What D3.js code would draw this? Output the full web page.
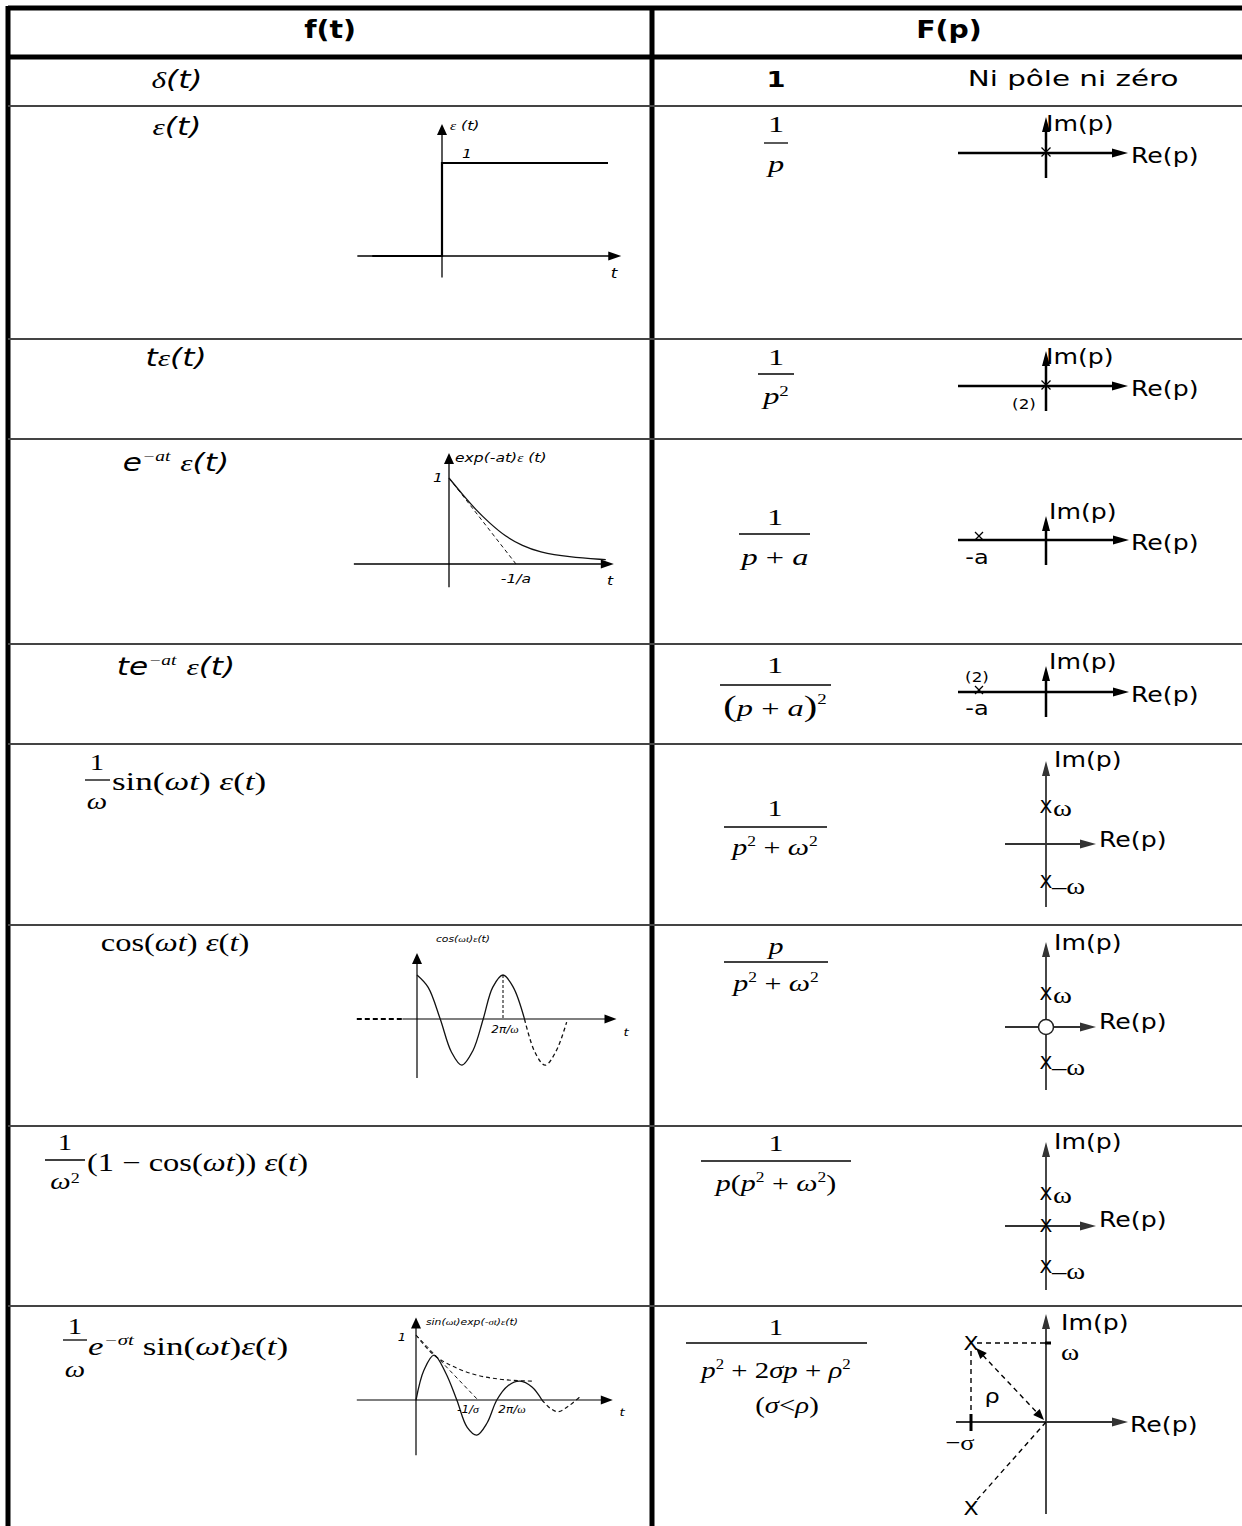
<!DOCTYPE html>
<html>
<head>
<meta charset="utf-8">
<script src="https://cdn.jsdelivr.net/npm/d3@7"></script>
<style>
  html, body { margin: 0; padding: 0; background: #fff; }
  svg { display: block; }
</style>
</head>
<body>
<div id="chart"></div>
<script>
// --- data ---
const headers = ["f(t)", "F(p)"];

// step e(t)
const stepT = [-0.42, 0, 0, 1];
const stepV = [0, 0, 1, 1];

// exp(-at) e(t), t in units of 1/a
const expT = [0, 0.2, 0.4, 0.6, 0.84, 1.1, 1.34, 1.78, 2.34];
const expV = [1, 0.81, 0.63, 0.48, 0.32, 0.21, 0.14, 0.08, 0.05];
const expTanT = [0, 1];
const expTanV = [1, 0];

// cos(wt) e(t), t in periods
const cosT = [0, 0.13, 0.27, 0.4, 0.52, 0.65, 0.77, 0.88, 1, 1.12, 1.25];
const cosV = [1, 0.72, 0, -0.75, -1.05, -0.72, 0, 0.72, 1, 0.72, 0];
const cosDashT = [1.25, 1.37, 1.49, 1.62, 1.74];
const cosDashV = [0, -0.75, -1.05, -0.72, -0.07];

// sin(wt) exp(-st) e(t)
const dampT = [0, 0.1, 0.225, 0.37, 0.51, 0.64, 0.76, 0.89, 1.01, 1.15, 1.3, 1.45, 1.575];
const dampV = [0, 0.46, 0.69, 0.42, 0, -0.42, -0.54, -0.35, 0, 0.22, 0.29, 0.2, 0];
const dampDashT = [1.575, 1.68, 1.775, 1.9, 2.05];
const dampDashV = [0, -0.13, -0.18, -0.1, 0.05];
const envT = [0, 0.225, 0.425, 0.71, 1.05, 1.46];
const envV = [1, 0.69, 0.54, 0.40, 0.32, 0.29];
const dampTanT = [0, 0.775];
const dampTanV = [1, 0];

// poles [re, im] per row
const polesStep = [[0, 0]];
const polesRamp = [[0, 0]];
const polesExp = [[-1, 0]];
const polesTExp = [[-1, 0]];
const polesSin = [[0, 1.03], [0, -1.05]];
const polesCos = [[0, 0.92], [0, -1.0]];
const zerosCos = [[0, 0]];
const polesOneMinusCos = [[0, 0], [0, 0.89], [0, -1.14]];
const polesDamped = [[-1, 1], [-1, -1.09]];

// --- layout ---
const W = 1242, H = 1526;
const SANS = "'DejaVu Sans', Verdana, sans-serif";
const SERIF = "'Liberation Serif', 'Times New Roman', serif";
const rowLines = [106, 339, 439, 644, 744, 925, 1126, 1306];

const svg = d3.select("#chart").append("svg").attr("width", W).attr("height", H);

function seg(pts, o = {}) {
    return svg.append("path").attr("d", d3.line()(pts))
        .attr("fill", "none").attr("stroke", o.color || "#000")
        .attr("stroke-width", o.w || 1.5)
        .attr("stroke-dasharray", o.dash || null);
}

function head(x1, y1, x2, y2, o = {}) {
    const len = o.len || 12, hw = o.hw || 4;
    const dx = x2 - x1, dy = y2 - y1, L = Math.hypot(dx, dy), ux = dx / L, uy = dy / L;
    const bx = x2 - ux * len, by = y2 - uy * len;
    svg.append("path")
        .attr("d", `M${x2},${y2}L${bx - uy * hw},${by + ux * hw}L${bx + uy * hw},${by - ux * hw}Z`)
        .attr("fill", o.color || "#000");
    return [bx + ux, by + uy];
}

function arrow(x1, y1, x2, y2, o = {}) {
    const b = head(x1, y1, x2, y2, o);
    seg([[x1, y1], b], o);
}

function txt(x, y, parts, o = {}) {
    o = Object.assign({ size: 22, anchor: "middle", sx: 1.3, fam: SANS }, o);
    const g = svg.append("g").attr("transform", `translate(${x},${y}) scale(${o.sx},1)`);
    const t = g.append("text").attr("text-anchor", o.anchor).attr("dy", "0.35em")
        .attr("font-family", o.fam).attr("font-size", o.size).attr("fill", "#000");
    if (o.weight) t.attr("font-weight", o.weight);
    if (o.style) t.attr("font-style", o.style);
    if (typeof parts === "string") parts = [{ t: parts }];
    parts.forEach(p => {
        const s = t.append("tspan").text(p.t);
        if (p.fam) s.attr("font-family", p.fam);
        if (p.style) s.attr("font-style", p.style);
        if (p.size) s.attr("font-size", p.size);
        if (p.dy) s.attr("dy", p.dy);
        if (p.dx) s.attr("dx", p.dx);
    });
    return t;
}

function frac(cx, yNum, yBar, yDen, x1, x2, num, den, o = {}) {
    const oo = Object.assign({ fam: SERIF, size: 24, sx: 1.35 }, o);
    txt(cx, yNum, num, oo);
    seg([[x1, yBar], [x2, yBar]], { w: 1.3 });
    txt(cx, yDen, den, oo);
}

const I = "italic";

// --- table frame ---
seg([[8, 8], [W + 5, 8]], { w: 5 });
seg([[8, 57], [W + 5, 57]], { w: 5 });
seg([[8, 6], [8, H + 5]], { w: 5 });
seg([[652, 6], [652, H + 5]], { w: 5 });
rowLines.forEach(y => seg([[8, y], [W + 5, y]], { w: 2, color: "#444" }));

txt(330, 30, headers[0], { weight: "bold", size: 24, sx: 1.18 });
txt(949, 30, headers[1], { weight: "bold", size: 24, sx: 1.18 });

// --- left column formulas ---
const eps = [{ t: "ε", fam: SERIF, style: I }, { t: "(t)", style: I }];
txt(177, 80, [{ t: "δ", fam: SERIF, style: I }, { t: "(t)", style: I }], { size: 24 });
txt(177, 127, eps, { size: 24 });
txt(176, 358, [{ t: "t", style: I }].concat(eps), { size: 24 });
txt(176, 463, [{ t: "e", style: I }, { t: "−at", fam: SERIF, style: I, size: 15, dy: -10 },
    { t: " ", dy: 10 }].concat(eps), { size: 24 });
txt(176, 667, [{ t: "te", style: I }, { t: "−at", fam: SERIF, style: I, size: 15, dy: -10 },
    { t: " ", dy: 10 }].concat(eps), { size: 24 });

const serifEps = [{ t: "ε", style: I }, { t: "(" }, { t: "t", style: I }, { t: ")" }];
const sinWt = [{ t: "sin(" }, { t: "ωt", style: I }, { t: ")" }];
const cosWt = [{ t: "cos(" }, { t: "ωt", style: I }, { t: ")" }];

frac(97, 762, 780, 801, 85, 110, "1", [{ t: "ω", style: I }], { sx: 1.2 });
txt(112, 781, sinWt.concat([{ t: " " }], serifEps), { fam: SERIF, size: 25, anchor: "start", sx: 1.4 });
txt(175, 942, cosWt.concat([{ t: " " }], serifEps), { fam: SERIF, size: 25, sx: 1.3 });
frac(65, 1142, 1160, 1181, 45, 85, "1", [{ t: "ω", style: I }, { t: "2", size: 15, dy: -6 }], { sx: 1.2 });
txt(87, 1162, [{ t: "(1 − " }].concat(cosWt, [{ t: ") " }], serifEps),
    { fam: SERIF, size: 25, anchor: "start", sx: 1.3 });
frac(75, 1326, 1340, 1369, 63, 87, "1", [{ t: "ω", style: I }], { sx: 1.2 });
txt(88, 1346, [{ t: "e", style: I }, { t: "−σt", style: I, size: 15, dy: -10 }, { t: " ", dy: 10 }]
    .concat(sinWt, serifEps), { fam: SERIF, size: 25, anchor: "start", sx: 1.4 });

// --- right column transforms ---
txt(776, 80, "1", { weight: "bold", size: 21 });
txt(1073, 79, "Ni pôle ni zéro", { size: 21, sx: 1.4 });
frac(776, 124, 143, 164, 764, 788, "1", [{ t: "p", style: I }]);
frac(776, 357, 374, 396, 758, 794, "1", [{ t: "p", style: I }, { t: "2", size: 14, dy: -8 }]);
frac(775, 517, 534, 557, 739, 810, "1", [{ t: "p", style: I }, { t: " + " }, { t: "a", style: I }]);
frac(775, 665, 685, 708, 720, 831, "1", [{ t: "(", size: 30 }, { t: "p", style: I }, { t: " + " },
    { t: "a", style: I }, { t: ")", size: 30 }, { t: "2", size: 14, dy: -12 }]);
const p2w2 = [{ t: "p", style: I }, { t: "2", size: 14, dy: -9 }, { t: " + ", dy: 9 },
    { t: "ω", style: I }, { t: "2", size: 14, dy: -9 }];
frac(775, 808, 827, 847, 724, 827, "1", p2w2, { sx: 1.25 });
frac(776, 946, 962, 983, 724, 828, [{ t: "p", style: I }], p2w2, { sx: 1.25 });
frac(776, 1143, 1161, 1183, 701, 851, "1", [{ t: "p", style: I }, { t: "(" }].concat(p2w2,
    [{ t: ")", dy: 9 }]), { sx: 1.25 });
frac(776, 1327, 1343, 1370, 686, 867, "1", [{ t: "p", style: I }, { t: "2", size: 14, dy: -9 },
    { t: " + 2", dy: 9 }, { t: "σp", style: I }, { t: " + " }, { t: "ρ", style: I },
    { t: "2", size: 14, dy: -9 }], { sx: 1.2 });
txt(787, 1405, [{ t: "(" }, { t: "σ", style: I }, { t: "<" }, { t: "ρ", style: I }, { t: ")" }],
    { fam: SERIF, size: 24, sx: 1.2 });

// --- small time plots ---
function plotLine(xs, ys, T, V, o = {}) {
    const pts = T.map((t, i) => [xs(t), ys(V[i])]);
    const gen = d3.line().curve(o.curve || d3.curveLinear);
    return svg.append("path").attr("d", gen(pts)).attr("fill", "none")
        .attr("stroke", o.color || "#111").attr("stroke-width", o.w || 1.3)
        .attr("stroke-dasharray", o.dash || null);
}

// step
{
    const x = d3.scaleLinear().domain([0, 1]).range([442, 608]);
    const y = d3.scaleLinear().domain([0, 1]).range([256, 163]);
    arrow(x(-0.51), y(0), x(1.08), y(0), { w: 1.3, len: 13, hw: 4.5 });
    arrow(x(0), y(-0.23), x(0), y(1.42), { w: 1.3, len: 11, hw: 5 });
    plotLine(x, y, stepT, stepV, { w: 2.2, color: "#000" });
    txt(450, 125, [{ t: "ε", fam: SERIF }, { t: " (t)" }], { size: 13, style: I, anchor: "start", sx: 1.2 });
    txt(467, 153, "1", { size: 13, style: I, sx: 1.2 });
    txt(614, 273, "t", { size: 14, style: I, sx: 1.2 });
}

// exp decay
{
    const x = d3.scaleLinear().domain([0, 1]).range([449, 516]);
    const y = d3.scaleLinear().domain([0, 1]).range([564, 478]);
    arrow(x(-1.42), y(0), x(2.46), y(0), { w: 1.3, len: 13, hw: 4.5 });
    arrow(x(0), y(-0.27), x(0), y(1.29), { w: 1.3, len: 11, hw: 5 });
    plotLine(x, y, expT, expV, { curve: d3.curveBasis, w: 1.3 });
    plotLine(x, y, expTanT, expTanV, { w: 1, dash: "4,3" });
    txt(455, 457, [{ t: "exp(-at)" }, { t: "ε", fam: SERIF }, { t: " (t)" }],
        { size: 13, style: I, anchor: "start", sx: 1.2 });
    txt(438, 477, "1", { size: 13, style: I, sx: 1.2 });
    txt(516, 578, "-1/a", { size: 13, style: I, sx: 1.2 });
    txt(610, 580, "t", { size: 13, style: I, sx: 1.2 });
}

// cos
{
    const x = d3.scaleLinear().domain([0, 1]).range([417, 503]);
    const y = d3.scaleLinear().domain([0, 1]).range([1019, 975]);
    arrow(x(-0.17), y(0), x(2.32), y(0), { w: 1.2, len: 12, hw: 4.5 });
    seg([[x(-0.7), y(0)], [x(-0.17), y(0)]], { w: 2, dash: "5,3" });
    arrow(x(0), y(-1.34), x(0), y(1.5), { w: 1.2, len: 11, hw: 5 });
    plotLine(x, y, cosT, cosV, { curve: d3.curveCatmullRom, w: 1.3 });
    plotLine(x, y, cosDashT, cosDashV, { curve: d3.curveCatmullRom, w: 1.3, dash: "4,3" });
    seg([[x(1), y(1)], [x(1), y(0)]], { w: 1, dash: "3,2" });
    txt(463, 939, [{ t: "cos(" }, { t: "ωt", fam: SERIF }, { t: ")" }, { t: "ε", fam: SERIF }, { t: "(t)" }],
        { size: 9, style: I, sx: 1.2 });
    txt(505, 1029, [{ t: "2π/" }, { t: "ω", fam: SERIF }], { size: 10, style: I, sx: 1.2 });
    txt(626, 1032, "t", { size: 11, style: I, sx: 1.2 });
}

// damped sine
{
    const x = d3.scaleLinear().domain([0, 1]).range([416, 496]);
    const y = d3.scaleLinear().domain([0, 1]).range([1400, 1335]);
    arrow(x(-0.74), y(0), x(2.46), y(0), { w: 1.2, len: 12, hw: 4.5 });
    arrow(x(0), y(-0.85), x(0), y(1.27), { w: 1.2, len: 11, hw: 5 });
    plotLine(x, y, dampT, dampV, { curve: d3.curveCatmullRom, w: 1.3 });
    plotLine(x, y, dampDashT, dampDashV, { curve: d3.curveCatmullRom, w: 1.2, dash: "4,3" });
    plotLine(x, y, envT, envV, { curve: d3.curveMonotoneX, w: 1.1, dash: "4,3" });
    plotLine(x, y, dampTanT, dampTanV, { w: 1, dash: "4,3" });
    txt(402, 1337, "1", { size: 11, style: I, sx: 1.2 });
    txt(426, 1322, [{ t: "sin(" }, { t: "ωt", fam: SERIF }, { t: ")exp(-" }, { t: "σt", fam: SERIF },
        { t: ")" }, { t: "ε", fam: SERIF }, { t: "(t)" }], { size: 9, style: I, anchor: "start", sx: 1.2 });
    txt(468, 1409, [{ t: "-1/" }, { t: "σ", fam: SERIF }], { size: 10, style: I, sx: 1.2 });
    txt(512, 1409, [{ t: "2π/" }, { t: "ω", fam: SERIF }], { size: 10, style: I, sx: 1.2 });
    txt(622, 1412, "t", { size: 11, style: I, sx: 1.2 });
}

// --- pole-zero maps ---
function pzAxes(o) {
    arrow(o.left, o.oy, o.right, o.oy, { w: o.w, color: o.color, len: 16, hw: 4.5 });
    arrow(1046, o.bottom, 1046, o.top, { w: o.w, color: o.color, len: 15, hw: 4 });
    txt(o.imX, o.imY, "Im(p)", { size: 21, anchor: "start", sx: 1.2 });
    txt(o.reX, o.reY, "Re(p)", { size: 21, anchor: "start", sx: 1.2 });
}
function smallX(cx, cy, r) {
    seg([[cx - r, cy - r], [cx + r, cy + r]], { w: 1.2 });
    seg([[cx - r, cy + r], [cx + r, cy - r]], { w: 1.2 });
}

// row e(t)
{
    const o = { oy: 153, left: 958, right: 1128, top: 117, bottom: 178, w: 2.5, imX: 1046, imY: 124, reX: 1131, reY: 156 };
    pzAxes(o);
    const x = d3.scaleLinear().domain([0, 1]).range([1046, 1113]);
    polesStep.forEach(p => smallX(x(p[0]), o.oy - 1, 4.5));
}
// row t e(t)
{
    const o = { oy: 386, left: 958, right: 1128, top: 351, bottom: 411, w: 2.5, imX: 1046, imY: 357, reX: 1131, reY: 389 };
    pzAxes(o);
    const x = d3.scaleLinear().domain([0, 1]).range([1046, 1113]);
    polesRamp.forEach(p => smallX(x(p[0]), o.oy - 1, 4.5));
    txt(1024, 404, "(2)", { size: 14, sx: 1.2 });
}
// row exp
{
    const o = { oy: 540, left: 958, right: 1129, top: 516, bottom: 565, w: 2.5, imX: 1049, imY: 512, reX: 1131, reY: 543 };
    pzAxes(o);
    const x = d3.scaleLinear().domain([0, 1]).range([1046, 1113]);
    polesExp.forEach(p => {
        smallX(x(p[0]), o.oy - 4, 4);
        txt(x(p[0]) - 2, o.oy + 17, "-a", { size: 20, sx: 1.2 });
    });
}
// row t exp
{
    const o = { oy: 692, left: 958, right: 1129, top: 666, bottom: 717, w: 2.5, imX: 1049, imY: 662, reX: 1131, reY: 695 };
    pzAxes(o);
    const x = d3.scaleLinear().domain([0, 1]).range([1046, 1113]);
    polesTExp.forEach(p => {
        smallX(x(p[0]), o.oy - 2, 4);
        txt(x(p[0]) - 2, o.oy + 16, "-a", { size: 20, sx: 1.2 });
    });
    txt(977, 677, "(2)", { size: 14, sx: 1.2 });
}

function poleLabels(poles, x, y) {
    poles.forEach(p => {
        const px = x(p[0]), py = y(p[1]);
        txt(px, py, "X", { size: 17, sx: 1.1 });
        if (p[1] > 0.1) txt(px + 7, py + 1, [{ t: "ω" }], { fam: SERIF, size: 23, anchor: "start", sx: 1.25 });
        else if (p[1] < -0.1) txt(px + 6, py + 4, [{ t: "–ω" }], { fam: SERIF, size: 23, anchor: "start", sx: 1.25 });
    });
}

// row sin
{
    const o = { oy: 844, left: 1005, right: 1096, top: 761, bottom: 907, w: 1.8, color: "#333", imX: 1054, imY: 760, reX: 1099, reY: 840 };
    pzAxes(o);
    const x = d3.scaleLinear().domain([0, 1]).range([1046, 1082]);
    const y = d3.scaleLinear().domain([0, 1]).range([o.oy, o.oy - 36]);
    poleLabels(polesSin, x, y);
}
// row cos
{
    const o = { oy: 1027, left: 1005, right: 1096, top: 942, bottom: 1090, w: 1.8, color: "#333", imX: 1054, imY: 943, reX: 1099, reY: 1022 };
    pzAxes(o);
    const x = d3.scaleLinear().domain([0, 1]).range([1046, 1082]);
    const y = d3.scaleLinear().domain([0, 1]).range([o.oy, o.oy - 36]);
    poleLabels(polesCos, x, y);
    zerosCos.forEach(z => svg.append("circle").attr("cx", x(z[0])).attr("cy", y(z[1])).attr("r", 7.5)
        .attr("fill", "#fff").attr("stroke", "#222").attr("stroke-width", 1.5));
}
// row 1 - cos
{
    const o = { oy: 1226, left: 1005, right: 1096, top: 1142, bottom: 1290, w: 1.8, color: "#333", imX: 1054, imY: 1142, reX: 1099, reY: 1220 };
    pzAxes(o);
    const x = d3.scaleLinear().domain([0, 1]).range([1046, 1082]);
    const y = d3.scaleLinear().domain([0, 1]).range([o.oy, o.oy - 36]);
    poleLabels(polesOneMinusCos, x, y);
}
// row damped
{
    const o = { oy: 1422, left: 956, right: 1128, top: 1314, bottom: 1514, w: 1.8, color: "#333", imX: 1061, imY: 1323, reX: 1130, reY: 1425 };
    pzAxes(o);
    const x = d3.scaleLinear().domain([0, 1]).range([1046, 1121]);
    const y = d3.scaleLinear().domain([0, 1]).range([o.oy, o.oy - 79]);
    const up = polesDamped[0], dn = polesDamped[1];
    seg([[x(up[0]) + 6, y(up[1])], [x(0), y(up[1])]], { w: 1.4, dash: "5,4" });
    seg([[x(0) - 1, y(up[1])], [x(0) + 5, y(up[1])]], { w: 3 });
    seg([[x(up[0]), y(up[1]) + 8], [x(up[0]), y(0)]], { w: 1.4, dash: "5,4" });
    seg([[x(up[0]), y(0) - 8], [x(up[0]), y(0) + 9]], { w: 3 });
    // rho: double-headed dashed arrow
    const ax = x(up[0]) + 5, ay = y(up[1]) + 5, bx = x(0) - 2, by = y(0) - 2;
    const e1 = head(ax, ay, bx, by, { len: 11, hw: 4.5 });
    const e0 = head(bx, by, ax, ay, { len: 11, hw: 4.5 });
    seg([e0, e1], { w: 1.4, dash: "5,4" });
    seg([[x(0), y(0)], [x(dn[0]) + 4, y(dn[1]) - 6]], { w: 1.4, dash: "5,4" });
    txt(x(up[0]), y(up[1]), "X", { size: 20, sx: 1.1 });
    txt(x(dn[0]), y(dn[1]), "X", { size: 20, sx: 1.1 });
    txt(1061, 1352, "ω", { fam: SERIF, size: 23, anchor: "start", sx: 1.2 });
    txt(960, 1442, "−σ", { fam: SERIF, size: 22, sx: 1.2 });
    txt(992, 1396, "ρ", { size: 20, sx: 1.2 });
}
</script>
</body>
</html>
